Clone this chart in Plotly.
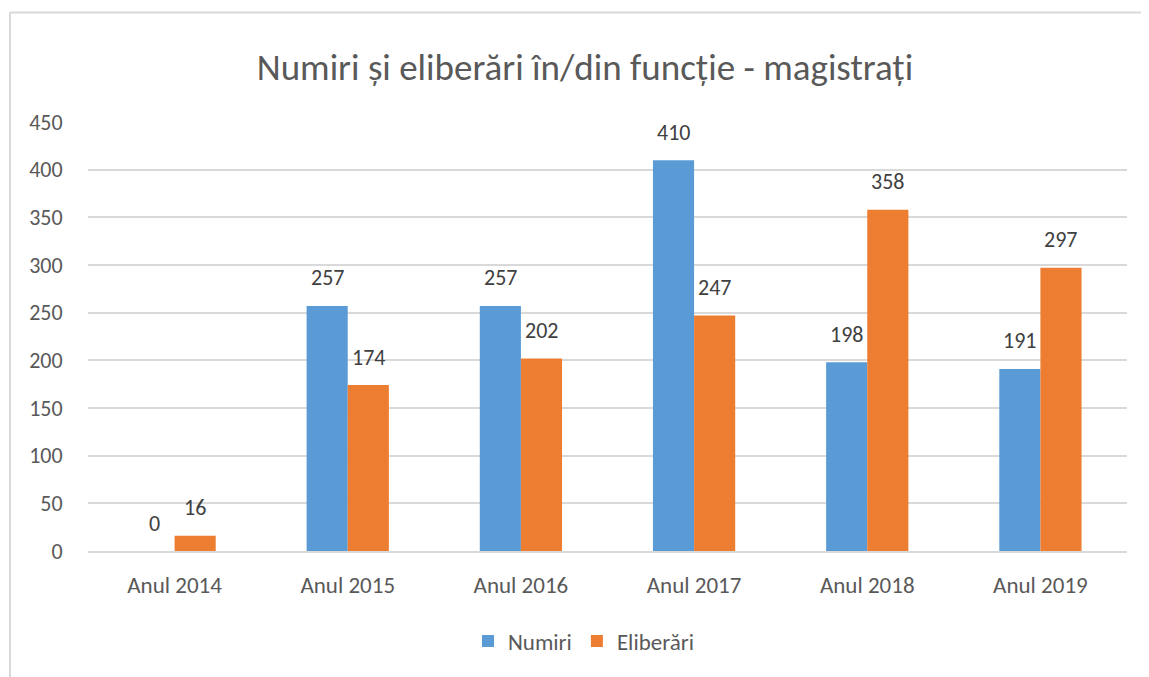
import plotly.graph_objects as go

categories = ["Anul 2014", "Anul 2015", "Anul 2016", "Anul 2017", "Anul 2018", "Anul 2019"]
numiri = [0, 257, 257, 410, 198, 191]
eliberari = [16, 174, 202, 247, 358, 297]
y_ticks = [0, 50, 100, 150, 200, 250, 300, 350, 400, 450]
title_text = "Numiri și eliberări în/din funcție - magistrați"

FONT = "Carlito, Calibri, Lato, sans-serif"
BLUE = "#5B9BD5"
ORANGE = "#ED7D31"
TXT = "#595959"
GRID = "#D9D9D9"

OFF = 8  # page body margin
W, H = 1149 - OFF, 677 - OFF
ml, mr, mt, mb = 88 - OFF, 22, 122 - OFF, 126
pw = W - ml - mr
ph = H - mt - mb

fig = go.Figure()
fig.add_trace(go.Bar(x=categories, y=numiri, name="Numiri", marker=dict(color=BLUE, line=dict(width=0))))
fig.add_trace(go.Bar(x=categories, y=eliberari, name="Eliberări", marker=dict(color=ORANGE, line=dict(width=0))))

bargap = 0.525
bar_px = pw / len(categories) * (1 - bargap) / 2
for series, sign in ((numiri, -1), (eliberari, 1)):
    for c, v in zip(categories, series):
        fig.add_annotation(x=c, y=v, xref="x", yref="y", text=str(v), showarrow=False,
                           xshift=sign * bar_px / 2, yshift=28, yanchor="middle",
                           font=dict(family=FONT, size=22, color="#404040"))

def px_x(p):
    return (p - OFF - ml) / pw

def px_y(p):
    return (H - mb - (p - OFF)) / ph

# chart border (left and top edges)
fig.add_shape(type="line", xref="paper", yref="paper", x0=px_x(10), x1=px_x(10), y0=px_y(690), y1=px_y(12.5),
              line=dict(color=GRID, width=2))
fig.add_shape(type="line", xref="paper", yref="paper", x0=px_x(10), x1=px_x(1160), y0=px_y(12.5), y1=px_y(12.5),
              line=dict(color=GRID, width=2))

fig.update_layout(
    width=W, height=H,
    margin=dict(l=ml, r=mr, t=mt, b=mb),
    paper_bgcolor="white", plot_bgcolor="white",
    barmode="group", bargap=bargap, bargroupgap=0,
    title=dict(text=title_text, x=(585 - OFF) / W, xanchor="center", y=1 - (67 - OFF) / H, yanchor="middle",
               yref="container", font=dict(family=FONT, size=37, color=TXT)),
    font=dict(family=FONT, color=TXT),
    showlegend=True,
    legend=dict(orientation="h", x=px_x(584), xanchor="center", y=px_y(641), yanchor="middle",
                font=dict(family=FONT, size=23, color=TXT), itemwidth=30, traceorder="normal"),
    xaxis=dict(showgrid=False, showline=True, linecolor=GRID, linewidth=2, ticks="outside", ticklen=12,
               tickcolor="rgba(0,0,0,0)", tickfont=dict(family=FONT, size=23, color=TXT), zeroline=False),
    yaxis=dict(range=[0, 450], tickvals=y_ticks, showgrid=True, gridcolor=GRID, gridwidth=1.5,
               showline=False, zeroline=False, ticks="outside", ticklen=20, tickcolor="rgba(0,0,0,0)",
               tickfont=dict(family=FONT, size=22, color=TXT)),
)

fig.write_html("out.html")
